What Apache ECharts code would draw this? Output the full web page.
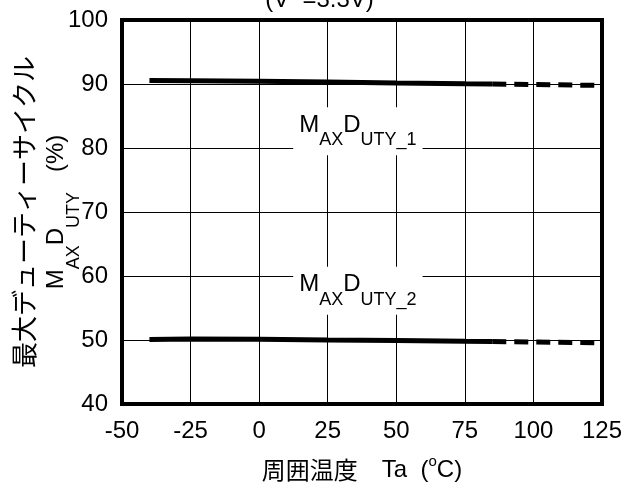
<!DOCTYPE html>
<html>
<head>
<meta charset="utf-8">
<script src="https://cdn.jsdelivr.net/npm/echarts@6/dist/echarts.min.js"></script>
<style>html,body{margin:0;padding:0;background:#fff;}#c{width:639px;height:485px;}</style>
</head>
<body>
<div id="c"></div>
<script>
// ---- data ----
const temps = [-40, -25, 0, 25, 50, 75, 85];
const duty1 = [90.55, 90.5, 90.42, 90.3, 90.16, 90.03, 90.0];
const duty2 = [50.08, 50.15, 50.1, 50.0, 49.92, 49.8, 49.77];
const tempsExt = [85, 125];
const duty1Ext = [90.0, 89.78];
const duty2Ext = [49.77, 49.55];
const xTicks = [-50, -25, 0, 25, 50, 75, 100, 125];
const yTicks = [40, 50, 60, 70, 80, 90, 100];
const labelTexts = ['{m|M}{s|AX}{m|D}{s|UTY_1}', '{m|M}{s|AX}{m|D}{s|UTY_2}'];
const labelAnchors = [[36, 82.6], [36, 57.7]];

const FONT = '"Liberation Sans", Arial, "Noto Sans CJK JP", sans-serif';
const JP = '"Noto Sans CJK JP", "Liberation Sans", sans-serif';

const pair = (xs, ys) => xs.map((x, i) => [x, ys[i]]);

const chart = echarts.init(document.getElementById('c'), null, {renderer: 'canvas'});
chart.setOption({
  animation: false,
  backgroundColor: '#fff',
  title: {
    text: '(V  =3.3V)', left: 'center', top: -12, padding: 0,
    textStyle: {fontSize: 24, fontWeight: 'normal', fontFamily: FONT, color: '#000'}
  },
  grid: {left: 122, right: 37, top: 20, bottom: 81, show: true, borderColor: '#000', borderWidth: 4,
         backgroundColor: 'transparent', containLabel: false, outerBoundsMode: 'none'},
  xAxis: {
    type: 'value', min: xTicks[0], max: xTicks[xTicks.length - 1], interval: 25,
    axisLine: {show: false}, axisTick: {show: false},
    splitLine: {show: true, lineStyle: {color: '#000', width: 1}},
    axisLabel: {fontSize: 24, color: '#000', fontFamily: FONT, margin: 15},
    name: '{j|周囲温度}{t|　Ta  (}{sup|o}{t|C)}',
    nameLocation: 'middle', nameGap: 50, nameMoveOverlap: false,
    nameTextStyle: {
      rich: {
        j: {fontSize: 24, lineHeight: 28, height: 24, fontFamily: JP, color: '#000', verticalAlign: 'bottom'},
        t: {fontSize: 24, lineHeight: 28, height: 24, fontFamily: FONT, color: '#000', verticalAlign: 'bottom'},
        sup: {fontSize: 15, lineHeight: 15, height: 15, fontFamily: FONT, color: '#000', verticalAlign: 'top'}
      }
    }
  },
  yAxis: {
    type: 'value', min: yTicks[0], max: yTicks[yTicks.length - 1], interval: 10,
    axisLine: {show: false}, axisTick: {show: false},
    splitLine: {show: true, lineStyle: {color: '#000', width: 1}},
    axisLabel: {fontSize: 24, color: '#000', fontFamily: FONT, margin: 14},
    name: '{jp|最大デューティーサイクル}\n{m|M}{s|AX}{m|D}{s|UTY}{m|   (%)}',
    nameLocation: 'middle', nameRotate: 90, nameGap: 39, nameMoveOverlap: false,
    nameTextStyle: {
      align: 'center',
      rich: {
        jp: {fontSize: 26, lineHeight: 40, fontFamily: JP, color: '#000'},
        m: {fontSize: 24, lineHeight: 39, height: 24, verticalAlign: 'top', fontFamily: FONT, color: '#000'},
        s: {fontSize: 18, lineHeight: 18, height: 18, verticalAlign: 'bottom', fontFamily: FONT, color: '#000'}
      }
    }
  },
  series: [
    {type: 'line', data: pair(temps, duty1), symbol: 'none', lineStyle: {color: '#000', width: 5, cap: 'butt'}, z: 3},
    {type: 'line', data: pair(tempsExt, duty1Ext), symbol: 'none', lineStyle: {color: '#000', width: 5, type: [14, 8], cap: 'butt'}, z: 3},
    {type: 'line', data: pair(temps, duty2), symbol: 'none', lineStyle: {color: '#000', width: 5, cap: 'butt'}, z: 3},
    {type: 'line', data: pair(tempsExt, duty2Ext), symbol: 'none', lineStyle: {color: '#000', width: 5, type: [14, 8], cap: 'butt'}, z: 3}
  ]
});

// in-plot curve labels, positioned through the chart's own scales
const labelRich = {
  m: {fontSize: 24, fontFamily: FONT, lineHeight: 36, height: 24, verticalAlign: 'top', fill: '#000'},
  s: {fontSize: 18, fontFamily: FONT, lineHeight: 18, height: 18, verticalAlign: 'bottom', fill: '#000'}
};
chart.setOption({
  graphic: labelAnchors.map((p, i) => {
    const px = chart.convertToPixel({xAxisIndex: 0, yAxisIndex: 0}, p);
    return {
      type: 'text', z: 10, x: px[0], y: px[1], silent: true,
      style: {
        text: labelTexts[i], rich: labelRich, fill: '#000',
        align: 'center', verticalAlign: 'middle',
        backgroundColor: '#fff', padding: [6, 6, 6, 6],
        fontSize: 24, fontFamily: FONT
      }
    };
  })
});
</script>
</body>
</html>
